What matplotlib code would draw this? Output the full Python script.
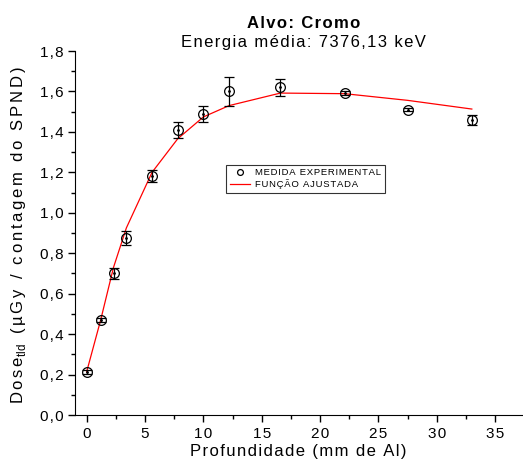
import matplotlib
matplotlib.use("Agg")
import matplotlib.pyplot as plt
from matplotlib.ticker import MultipleLocator, FuncFormatter

plt.rcParams["font.family"] = ["Liberation Sans", "DejaVu Sans"]

# measured points (depth in mm Al, dose, error)
depth = [0.0, 1.2, 2.3, 3.4, 5.6, 7.8, 10.0, 12.2, 16.6, 22.1, 27.5, 33.0]
dose = [0.215, 0.47, 0.70, 0.875, 1.18, 1.41, 1.49, 1.60, 1.62, 1.593, 1.51, 1.46]
dose_err = [0.01, 0.01, 0.028, 0.035, 0.03, 0.04, 0.04, 0.07, 0.04, 0.01, 0.008, 0.025]

# fitted curve evaluated at the same depths
fit = [0.214, 0.47, 0.73, 0.925, 1.20, 1.366, 1.474, 1.53, 1.592, 1.589, 1.556, 1.513]

SP = "\u200a"  # hair space, mimics the wide letter spacing of the original


def spaced(s, sep=SP):
    return sep.join(s)


fig = plt.figure(figsize=(5.23, 4.68), dpi=100)
ax = fig.add_axes([0.1434, 0.1132, 0.8547, 0.7778])

ax.plot(depth, fit, color="red", lw=0.9, label=spaced("FUNÇÃO AJUSTADA"), zorder=2)
ax.errorbar(depth, dose, yerr=dose_err, fmt="none", ecolor="black",
            elinewidth=0.9, capsize=3.5, capthick=0.9, zorder=3)
ax.plot(depth, dose, "o", ms=7, mfc="none", mec="black", mew=0.9,
        zorder=4, label=spaced("MEDIDA EXPERIMENTAL"))
ax.plot(depth, dose, ".", ms=2, color="black", zorder=5)

ax.set_xlim(-1, 37.3)
ax.set_ylim(0, 1.8)
ax.xaxis.set_major_locator(MultipleLocator(5))
ax.xaxis.set_minor_locator(MultipleLocator(2.5))
ax.yaxis.set_major_locator(MultipleLocator(0.2))
ax.yaxis.set_minor_locator(MultipleLocator(0.1))
ax.yaxis.set_major_formatter(
    FuncFormatter(lambda v, p: spaced(f"{v:.1f}".replace(".", ","))))
ax.xaxis.set_major_formatter(FuncFormatter(lambda v, p: spaced(f"{v:.0f}")))
ax.tick_params(which="both", direction="out", width=1, labelsize=11)
ax.tick_params(which="major", length=5)
ax.tick_params(which="minor", length=3)
ax.spines["top"].set_visible(False)
ax.spines["right"].set_visible(False)

ax.set_xlabel(spaced("Profundidade (mm de Al)"), fontsize=12, labelpad=2)
ax.set_ylabel(spaced("Dose", SP * 2) + "$_{\\mathregular{tld}}$" + SP * 2
              + spaced(" (µGy / contagem do SPND)", SP * 2),
              fontsize=12, labelpad=0)
ax.yaxis.set_label_coords(-0.105, 0.495)

fig.text(0.581, 0.940, spaced("Alvo: Cromo"), ha="center", va="baseline",
         fontsize=12, fontweight="bold")
fig.text(0.581, 0.8996, spaced("Energia média: 7376,13 keV"), ha="center",
         va="baseline", fontsize=12)

handles, labels = ax.get_legend_handles_labels()
leg = ax.legend(handles[::-1], labels[::-1], loc="upper left",
                bbox_to_anchor=(0.327, 0.701), fontsize=6.8, frameon=True,
                fancybox=False, edgecolor="black", handlelength=2.2,
                markerscale=0.6, borderpad=0.4, labelspacing=0.2,
                handletextpad=0.5)
leg.get_frame().set_linewidth(0.8)

fig.savefig("out.png", dpi=100)
